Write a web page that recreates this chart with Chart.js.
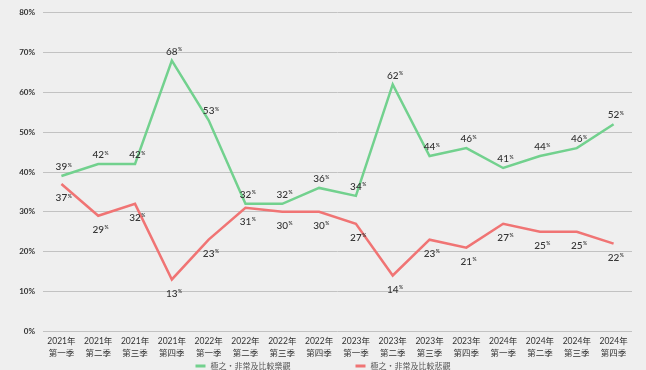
<!DOCTYPE html>
<html lang="zh-Hant">
<head>
<meta charset="UTF-8">
<title>樂觀 / 悲觀 趨勢</title>
<script src="https://cdn.jsdelivr.net/npm/chart.js"></script>
<style>
    html, body {
        margin: 0;
        padding: 0;
        background: #efefef;
        overflow: hidden;
    }
    #wrap {
        width: 646px;
        height: 370px;
    }
</style>
</head>
<body>
<div id="wrap"><canvas id="trend"></canvas></div>
<script>
    const quarters = [
        ["2021年", "第一季"], ["2021年", "第二季"], ["2021年", "第三季"], ["2021年", "第四季"],
        ["2022年", "第一季"], ["2022年", "第二季"], ["2022年", "第三季"], ["2022年", "第四季"],
        ["2023年", "第一季"], ["2023年", "第二季"], ["2023年", "第三季"], ["2023年", "第四季"],
        ["2024年", "第一季"], ["2024年", "第二季"], ["2024年", "第三季"], ["2024年", "第四季"]
    ];
    const optimistic = [39, 42, 42, 68, 53, 32, 32, 36, 34, 62, 44, 46, 41, 44, 46, 52];
    const pessimistic = [37, 29, 32, 13, 23, 31, 30, 30, 27, 14, 23, 21, 27, 25, 25, 22];
    const seriesNames = ["極之・非常及比較樂觀", "極之・非常及比較悲觀"];
    const yTicks = [0, 10, 20, 30, 40, 50, 60, 70, 80];

    const fontFamily = "Lato, 'Noto Sans CJK TC', sans-serif";

    // value labels: green above the point, red below, small raised "%"
    const valueLabels = {
        id: 'valueLabels',
        afterDatasetsDraw(chart) {
            const ctx = chart.ctx;
            ctx.save();
            ctx.fillStyle = '#333';
            ctx.textBaseline = 'middle';
            ctx.textAlign = 'left';
            chart.data.datasets.forEach((ds, i) => {
                const meta = chart.getDatasetMeta(i);
                meta.data.forEach((pt, j) => {
                    const txt = String(ds.data[j]);
                    ctx.font = '500 10px ' + fontFamily;
                    const w1 = ctx.measureText(txt).width;
                    ctx.font = '600 5px ' + fontFamily;
                    const w2 = ctx.measureText('%').width;
                    const x0 = pt.x - (w1 + w2) / 2 + 2;
                    const y = i === 0 ? pt.y - 9 : pt.y + 14;
                    ctx.font = '500 10px ' + fontFamily;
                    ctx.fillText(txt, x0, y);
                    ctx.font = '600 5px ' + fontFamily;
                    ctx.fillText('%', x0 + w1 + 0.5, y - 2);
                });
            });
            ctx.restore();
        }
    };

    // legend drawn at the very bottom, partly cut by the canvas edge
    const bottomLegend = {
        id: 'bottomLegend',
        afterDraw(chart) {
            const ctx = chart.ctx;
            const gap = 65, sw = 10, sp = 5, y = 366;
            ctx.save();
            ctx.font = '8px ' + fontFamily;
            const widths = chart.data.datasets.map(ds => sw + sp + ctx.measureText(ds.label).width);
            let x = (chart.width - (widths[0] + widths[1] + gap)) / 2;
            chart.data.datasets.forEach((ds, i) => {
                ctx.fillStyle = ds.borderColor;
                ctx.fillRect(x, y - 1.5, sw, 3);
                ctx.fillStyle = '#555';
                ctx.textBaseline = 'middle';
                ctx.textAlign = 'left';
                ctx.fillText(ds.label, x + sw + sp, y);
                x += widths[i] + gap;
            });
            ctx.restore();
        }
    };

    new Chart(document.getElementById('trend'), {
        type: 'line',
        data: {
            labels: quarters,
            datasets: [{
                label: seriesNames[0],
                data: optimistic,
                borderColor: '#72d18e',
                backgroundColor: '#72d18e',
                borderWidth: 2.5,
                pointRadius: 0,
                tension: 0
            }, {
                label: seriesNames[1],
                data: pessimistic,
                borderColor: '#f07474',
                backgroundColor: '#f07474',
                borderWidth: 2.5,
                pointRadius: 0,
                tension: 0
            }]
        },
        options: {
            responsive: true,
            maintainAspectRatio: false,
            animation: false,
            layout: { padding: { top: 10, right: 14, left: 0, bottom: 7 } },
            plugins: {
                legend: { display: false },
                tooltip: { enabled: false }
            },
            scales: {
                x: {
                    offset: true,
                    grid: { display: false, drawTicks: false },
                    border: { display: false },
                    ticks: {
                        color: '#333',
                        padding: 4,
                        maxRotation: 0,
                        autoSkip: false,
                        font: { family: fontFamily, size: 8.5, lineHeight: 1.4 }
                    }
                },
                y: {
                    min: 0,
                    max: 80,
                    afterFit(scale) { scale.width = 43; },
                    afterBuildTicks(scale) { scale.ticks = yTicks.map(v => ({ value: v })); },
                    grid: { color: '#c2c2c2', lineWidth: 1, drawTicks: false },
                    border: { display: false },
                    ticks: {
                        color: '#333',
                        padding: 8,
                        font: { family: fontFamily, size: 8, weight: 'bold' },
                        callback: v => v + '%'
                    }
                }
            }
        },
        plugins: [valueLabels, bottomLegend]
    });
</script>
</body>
</html>
